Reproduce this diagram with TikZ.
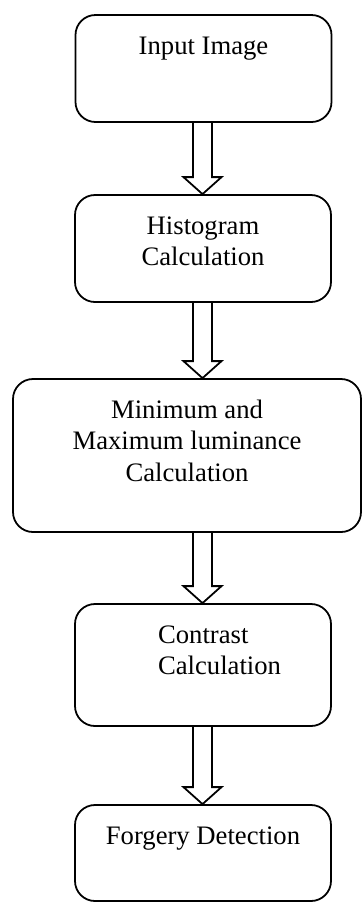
\documentclass[tikz,border=0pt]{standalone}
\usepackage{fontspec}
\setmainfont{Liberation Serif}

% text of a box, set at its top
\newcommand{\boxtext}[3]{\parbox[t][#2][t]{#1}{\centering\strut #3}}
% hollow block arrow from one box down to the next
\newcommand{\flowarrow}[2]{%
  \coordinate (from) at (spine |- #1.south);
  \coordinate (to) at (spine |- #2.north);
  \draw ([xshift=-4.3pt]from) -- ([xshift=-4.3pt,yshift=7.65pt]to)
    -- ([xshift=-8.55pt,yshift=7.65pt]to) -- (to)
    -- ([xshift=8.55pt,yshift=7.65pt]to) -- ([xshift=4.3pt,yshift=7.65pt]to)
    -- ([xshift=4.3pt]from);}

\begin{document}
\begin{tikzpicture}
  [x=0.45pt,y=-0.45pt,line width=0.8pt,
   every node/.style={draw,rounded corners=9pt,inner xsep=0pt,inner ysep=7.8pt,
     font=\fontsize{12}{14.2}\selectfont}]
  \useasboundingbox (0,0) rectangle (363,904);
  \coordinate (spine) at (202.5,0);
  \node (img) at (203.5,68.5) {\boxtext{115.2pt}{32.55pt}{Input Image}};
  \node (hist) at (203,248.5) {\boxtext{115.2pt}{32.55pt}{Histogram\\Calculation}};
  \node (lum) at (187,455.5) {\boxtext{156.6pt}{53.25pt}{Minimum and\\Maximum luminance\\Calculation}};
  \node (contrast) at (203,665) {\boxtext{115.2pt}{39.3pt}{\leftskip=37.4pt Contrast\\Calculation}};
  \node (forgery) at (203,853) {\boxtext{115.2pt}{27.6pt}{Forgery Detection}};
  \foreach \from/\to in {img/hist,hist/lum,lum/contrast,contrast/forgery}
    \flowarrow{\from}{\to};

\end{tikzpicture}
\end{document}
